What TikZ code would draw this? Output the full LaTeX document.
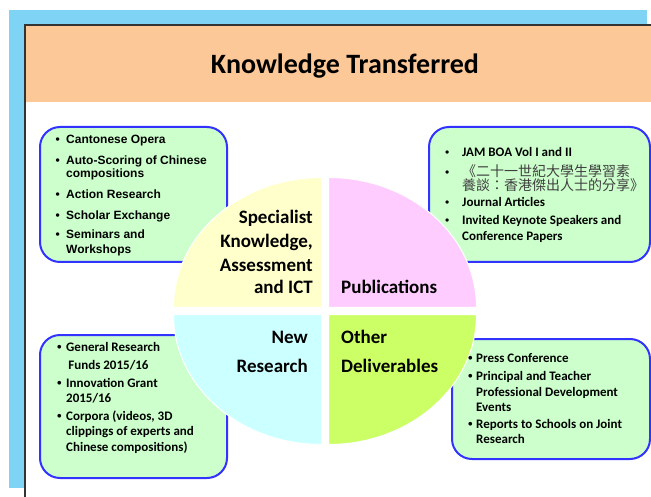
\documentclass[tikz,border=0pt]{standalone}
\usepackage{fontspec}
\newfontfamily\calibri{Carlito}
\newfontfamily\arialf{Liberation Sans}
\newfontfamily\cjkf{Noto Sans CJK TC}
\definecolor{skyblue}{HTML}{7FD3F5}
\definecolor{headorange}{HTML}{FDC898}
\definecolor{boxgreen}{HTML}{CCFFCC}
\definecolor{boxblue}{HTML}{3333FF}
\definecolor{qyellow}{HTML}{FFFFCC}
\definecolor{qpink}{HTML}{FFCCFF}
\definecolor{qcyan}{HTML}{CCFFFF}
\definecolor{qlime}{HTML}{CCFF66}
\definecolor{panelline}{HTML}{333333}
\newcommand\bul[1]{\llap{{\arialf\textbullet}\hspace{#1}}}
\newcommand\smallbul[1]{\llap{{\arialf\mdseries\color{black}\fontsize{12}{14}\selectfont\textbullet}\hspace{#1}}}
\begin{document}
\begin{tikzpicture}[x=1pt,y=-1pt,
  arialline/.style={anchor=base west, inner sep=0pt, font=\arialf\bfseries\fontsize{12}{14}\selectfont},
  calline/.style={anchor=base west, inner sep=0pt, font=\calibri\bfseries\fontsize{13}{15}\selectfont},
  quadtext/.style={inner sep=0pt, font=\calibri\bfseries\fontsize{19}{23}\selectfont},
  listbox/.style={draw=boxblue, fill=boxgreen, line width=2pt, rounded corners=20pt},
  quadfill/.style={draw=white, line width=1pt}]
\useasboundingbox (0,0) rectangle (651,497);
% background panels
\fill[skyblue] (9,10) rectangle (647,488);
\fill[white] (25,25) rectangle (651,497);
\fill[headorange] (25,25) rectangle (651,102);
\draw[line width=2pt, panelline] (25,497) -- (25,25) -- (651,25);
\node[anchor=base, inner sep=0pt, font=\calibri\bfseries\fontsize{28}{32}\selectfont] (title) at (345,74) {Knowledge Transferred};
% list boxes
\draw[listbox] (40,127) rectangle (227,262);
\draw[listbox] (429,127) rectangle (650,262);
\draw[listbox] (40,335) rectangle (227,478);
\draw[listbox] (452,339) rectangle (650,459);
% quadrants (ellipse rx=148, ry=130, centre 325,311, gap 7)
\fill[qyellow, quadfill] (321.5,307.5) -- ++(-148,0) arc[start angle=180, end angle=90, x radius=148pt, y radius=130pt] -- cycle;
\fill[qpink, quadfill] (328.5,307.5) -- ++(0,-130) arc[start angle=90, end angle=0, x radius=148pt, y radius=130pt] -- cycle;
\fill[qlime, quadfill] (328.5,314.5) -- ++(148,0) arc[start angle=0, end angle=-90, x radius=148pt, y radius=130pt] -- cycle;
\fill[qcyan, quadfill] (321.5,314.5) -- ++(0,130) arc[start angle=-90, end angle=-180, x radius=148pt, y radius=130pt] -- cycle;
% quadrant labels
\foreach \y/\t [count=\i] in {224/Specialist, 248/{Knowledge,}, 272/Assessment, 294/{and ICT}}
  \node[quadtext, anchor=base east] (spec\i) at (313,\y) {\t};
\node[quadtext, anchor=base west] (pub) at (341,294) {Publications};
\node[quadtext, anchor=base east] (new1) at (308,343) {New};
\node[quadtext, anchor=base east] (new2) at (308,372) {Research};
\node[quadtext, anchor=base west] (oth1) at (341,343) {Other};
\node[quadtext, anchor=base west] (oth2) at (341,372) {Deliverables};
% top-left list
\foreach \y/\t [count=\i] in {144/{\bul{6.5pt}Cantonese Opera}, 165/{\bul{6.5pt}Auto-Scoring of Chinese}, 178/{compositions}, 199/{\bul{6.5pt}Action Research}, 220/{\bul{6.5pt}Scholar Exchange}, 239/{\bul{6.5pt}Seminars and}, 254/{Workshops}}
  \node[arialline] (tl\i) at (66,\y) {\t};
% top-right list
\node[calline] (tr1) at (462,157) {\smallbul{13pt}JAM BOA Vol I and II};
\node[calline, font=\cjkf\fontsize{14}{16}\selectfont, text=black!75] (tr2) at (462,177) {\smallbul{13pt}《二十一世紀大學生學習素};
\node[calline, font=\cjkf\fontsize{14}{16}\selectfont, text=black!75] (tr3) at (462,191) {養談：香港傑出人士的分享》};
\node[calline] (tr4) at (462,207) {\smallbul{13pt}Journal Articles};
\node[calline] (tr5) at (462,225) {\smallbul{13pt}Invited Keynote Speakers and};
\node[calline] (tr6) at (462,241) {Conference Papers};
% bottom-left list
\foreach \y/\t [count=\i] in {351/{\bul{4.5pt}General Research}, 369/{\,Funds 2015/16}, 387/{\bul{4.5pt}Innovation Grant}, 402/{2015/16}, 420/{\bul{4.5pt}Corpora (videos, 3D}, 435/{clippings of experts and}, 451/{Chinese compositions)}}
  \node[calline] (bl\i) at (66,\y) {\t};
% bottom-right list
\foreach \y/\t [count=\i] in {362/{\bul{3.5pt}Press Conference}, 380/{\bul{3.5pt}Principal and Teacher}, 396/{Professional Development}, 411/{Events}, 428/{\bul{3.5pt}Reports to Schools on Joint}, 443/{Research}}
  \node[calline] (br\i) at (476,\y) {\t};
\end{tikzpicture}
\end{document}
